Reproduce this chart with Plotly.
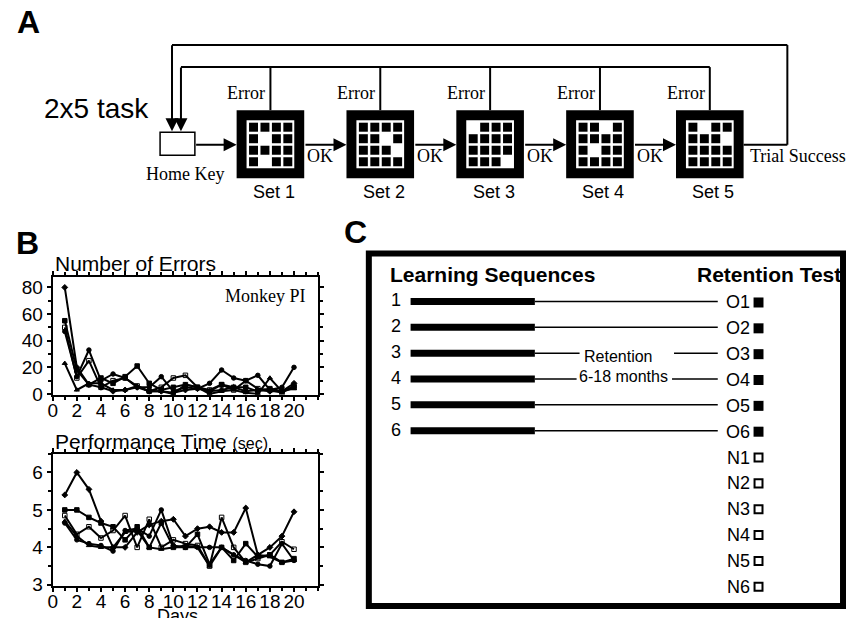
import plotly.graph_objects as go

# ---------------- data ----------------
days = list(range(1, 21))

errors_a = [80, 20, 7, 5, 2, 3, 5, 2, 2, 1, 3, 4, 2, 3, 5, 2, 3, 2, 2, 8]
errors_b = [55, 18, 7, 12, 8, 13, 21, 8, 3, 5, 7, 5, 2, 7, 5, 5, 2, 4, 2, 5]
errors_c = [50, 12, 25, 5, 10, 12, 6, 2, 5, 12, 14, 5, 3, 7, 3, 10, 4, 3, 1, 6]
errors_d = [47, 13, 33, 10, 15, 12, 5, 5, 13, 2, 5, 4, 8, 18, 12, 10, 14, 3, 5, 20]
errors_e = [23, 3, 8, 8, 3, 3, 6, 2, 2, 0, 7, 5, 0, 2, 3, 1, 0, 12, 2, 4]

perf_a = [5.4, 6.0, 5.55, 4.7, 4.0, 4.0, 4.4, 4.6, 4.7, 4.75, 4.3, 4.5, 4.55, 4.4, 4.4, 5.05, 3.8, 4.0, 4.3, 4.95]
perf_b = [5.0, 5.0, 4.8, 4.65, 4.55, 4.2, 4.55, 4.0, 4.65, 4.0, 4.0, 4.35, 3.55, 4.0, 3.65, 4.1, 3.75, 3.8, 3.6, 3.7]
perf_c = [4.85, 4.35, 4.55, 4.25, 4.45, 4.85, 4.0, 4.75, 4.0, 4.2, 4.1, 4.05, 3.5, 4.8, 4.0, 3.6, 3.7, 3.8, 4.15, 3.95]
perf_d = [4.65, 4.2, 4.1, 4.05, 3.9, 4.45, 4.5, 4.3, 5.0, 4.05, 4.0, 4.0, 4.0, 4.0, 3.8, 3.65, 3.55, 3.5, 4.1, 3.65]
perf_e = [4.7, 4.3, 4.05, 4.0, 4.0, 4.4, 4.45, 4.0, 3.95, 4.0, 4.05, 4.0, 3.5, 4.0, 3.8, 3.6, 3.8, 3.75, 3.6, 3.65]

series_symbols = ["diamond", "square", "square-open", "circle", "triangle-up"]

x_ticks = [0, 2, 4, 6, 8, 10, 12, 14, 16, 18, 20]

set_labels = ["Set 1", "Set 2", "Set 3", "Set 4", "Set 5"]
set_grids = [
    [[1, 1, 1, 1], [1, 0, 1, 1], [1, 1, 1, 1], [1, 0, 1, 1]],
    [[1, 1, 1, 1], [1, 1, 0, 1], [1, 1, 1, 0], [1, 1, 1, 1]],
    [[0, 1, 1, 1], [1, 1, 1, 1], [1, 1, 1, 1], [1, 1, 1, 0]],
    [[1, 1, 0, 1], [1, 1, 1, 1], [1, 0, 1, 1], [1, 1, 1, 1]],
    [[1, 0, 1, 1], [1, 1, 1, 0], [1, 1, 1, 1], [1, 1, 1, 1]],
]

seq_labels = ["1", "2", "3", "4", "5", "6"]
old_labels = ["O1", "O2", "O3", "O4", "O5", "O6"]
new_labels = ["N1", "N2", "N3", "N4", "N5", "N6"]

# ---------------- helpers ----------------
W, H = 846, 618
FIG_H = 629
SANS = "Liberation Sans, Arial, Helvetica, sans-serif"
SERIF = "Liberation Serif, Times New Roman, serif"


def px(x):
    return x / W


def py(y):
    return 1 - y / H


shapes = []
annots = []


def line(x0, y0, x1, y1, w=2):
    shapes.append(dict(type="line", xref="paper", yref="paper",
                       x0=px(x0), y0=py(y0), x1=px(x1), y1=py(y1),
                       line=dict(color="black", width=w)))


def rect(x0, y0, x1, y1, fill="black", lw=0, lc="black"):
    shapes.append(dict(type="rect", xref="paper", yref="paper",
                       x0=px(x0), y0=py(y0), x1=px(x1), y1=py(y1),
                       fillcolor=fill, line=dict(color=lc, width=lw)))


def text(x, y, s, size, font=SANS, xa="center", ya="middle"):
    annots.append(dict(x=px(x), y=py(y), xref="paper", yref="paper", text=s,
                       showarrow=False, xanchor=xa, yanchor=ya,
                       font=dict(family=font, size=size, color="black")))


def arrow(tx, ty, hx, hy, w=2):
    annots.append(dict(x=px(hx), y=py(hy), xref="paper", yref="paper", text="",
                       showarrow=True, ax=tx - hx, ay=(ty - hy) * FIG_H / H, arrowhead=2,
                       arrowsize=1.3, arrowwidth=w, arrowcolor="black", standoff=0))


# ---------------- panel A ----------------
text(24, 22, "<b>A</b>", 32)
text(92, 108, "2x5 task", 28)

FLOW_Y = 144.5
BOX = 68
box_left = [233 + 110.5 * i for i in range(len(set_labels))]
box_top = 110

# feedback loops
line(168, 45, 787, 45)
line(787, 45, 787, FLOW_Y)
line(177, 67, box_left[-1] + BOX / 2, 67)
arrow(168, 45, 168, 131)
arrow(177, 67, 177, 131)

# home key
rect(156, 132, 191, 155, fill="white", lw=1.5)
text(181, 174, "Home Key", 18, SERIF)
arrow(191, FLOW_Y, box_left[0], FLOW_Y)

for i, (lab, grid) in enumerate(zip(set_labels, set_grids)):
    L = box_left[i]
    cx = L + BOX / 2
    line(cx, 67, cx, box_top)
    text(cx - 3, 93, "Error", 18, SERIF, xa="right")
    rect(L, box_top, L + BOX, box_top + BOX, fill="black")
    rect(L + 10, box_top + 10, L + 58, box_top + 58, fill="white")
    for r, row in enumerate(grid):
        for c, v in enumerate(row):
            if v:
                x0 = L + 12.5 + 11.5 * c
                y0 = box_top + 12.5 + 11.5 * r
                rect(x0, y0, x0 + 9, y0 + 9, fill="black")
    text(cx + 3.5, 192, lab, 18)
    if i < len(set_labels) - 1:
        arrow(L + BOX, FLOW_Y, box_left[i + 1], FLOW_Y)
        text(L + BOX + 1, 156, "OK", 18, SERIF, xa="left")
    else:
        line(L + BOX, FLOW_Y, 787, FLOW_Y)
        text(L + BOX + 4, 156, "Trial Success", 18, SERIF, xa="left")

# ---------------- panel B ----------------
text(23, 243, "<b>B</b>", 32)
text(48, 263, "Number of Errors", 21, xa="left")
text(48, 441, "Performance Time <span style='font-size:16px'>(sec)</span>", 21, xa="left")
text(305, 296, "Monkey PI", 18, SERIF, xa="right")
text(174, 603, "Days", 18, ya="top")

# ---------------- panel C ----------------
text(353, 232, "<b>C</b>", 32)
rect(366, 253, 843, 605, fill="rgba(0,0,0,0)", lw=6)
text(385, 274, "<b>Learning Sequences</b>", 21, xa="left")
text(843, 274, "<b>Retention Test</b>", 21, xa="right")

ROW0, ROWD = 301, 25.8
for k, lab in enumerate(seq_labels):
    y = ROW0 + ROWD * k
    text(393, y - 1, lab, 18)
    shapes.append(dict(type="line", xref="paper", yref="paper",
                       x0=px(408), y0=py(y), x1=px(533), y1=py(y),
                       line=dict(color="black", width=7)))
    if k == 2:
        line(533, y, 578, y, 1.5)
        line(673, y, 717, y, 1.5)
    elif k == 3:
        line(533, y, 575, y, 1.5)
        line(671, y, 717, y, 1.5)
    else:
        line(533, y, 717, y, 1.5)

text(580, 356, "Retention", 16, xa="left")
text(575, 376, "6-18 months", 16, xa="left")

for k, lab in enumerate(old_labels + new_labels):
    y = ROW0 + ROWD * k
    text(751, y + 1, lab, 18, xa="right")
    if k < len(old_labels):
        rect(753, y - 4, 763, y + 6, fill="black")
    else:
        rect(754, y - 3, 762, y + 5, fill="white", lw=2)

# ---------------- traces ----------------
fig = go.Figure()
err_series = [errors_a, errors_b, errors_c, errors_d, errors_e]
perf_series = [perf_a, perf_b, perf_c, perf_d, perf_e]
for vals, sym in zip(err_series, series_symbols):
    fig.add_trace(go.Scatter(x=days, y=vals, mode="lines+markers", xaxis="x", yaxis="y",
                             line=dict(color="black", width=2),
                             marker=dict(symbol=sym, size=4.5, color="black",
                                         line=dict(color="black", width=1)),
                             showlegend=False))
for vals, sym in zip(perf_series, series_symbols):
    fig.add_trace(go.Scatter(x=days, y=vals, mode="lines+markers", xaxis="x2", yaxis="y2",
                             line=dict(color="black", width=2),
                             marker=dict(symbol=sym, size=4.5, color="black",
                                         line=dict(color="black", width=1)),
                             showlegend=False))

axis_common = dict(showline=True, linewidth=2, linecolor="black", mirror="allticks",
                   ticks="outside", ticklen=4, tickwidth=1.5, tickcolor="black",
                   showgrid=False, zeroline=False,
                   tickfont=dict(family=SANS, size=19, color="black"))

fig.update_layout(
    width=W, height=FIG_H, margin=dict(l=0, r=0, t=0, b=0),
    paper_bgcolor="white", plot_bgcolor="white",
    xaxis=dict(domain=[px(48), px(315)], anchor="y", range=[0, 22], tickvals=x_ticks,
               ticklabelstandoff=-6,
               minor=dict(dtick=1, ticks="outside", ticklen=3, tickcolor="black"),
               **axis_common),
    yaxis=dict(domain=[py(394), py(277)], anchor="x", range=[-0.5, 87.5], dtick=20, tick0=0,
               minor=dict(dtick=10, ticks="outside", ticklen=3, tickcolor="black"),
               **axis_common),
    xaxis2=dict(domain=[px(48), px(315)], anchor="y2", range=[0, 22], tickvals=x_ticks,
                ticklabelstandoff=-7,
                minor=dict(dtick=1, ticks="outside", ticklen=3, tickcolor="black"),
                **axis_common),
    yaxis2=dict(domain=[py(585), py(453)], anchor="x2", range=[2.97, 6.5], dtick=1, tick0=3,
                minor=dict(dtick=0.5, ticks="outside", ticklen=3, tickcolor="black"),
                **axis_common),
    shapes=shapes,
    annotations=annots,
)

fig.write_html("out.html", config={"displayModeBar": False},
               post_script="document.body.style.margin='0px';document.body.style.overflow='hidden';")
